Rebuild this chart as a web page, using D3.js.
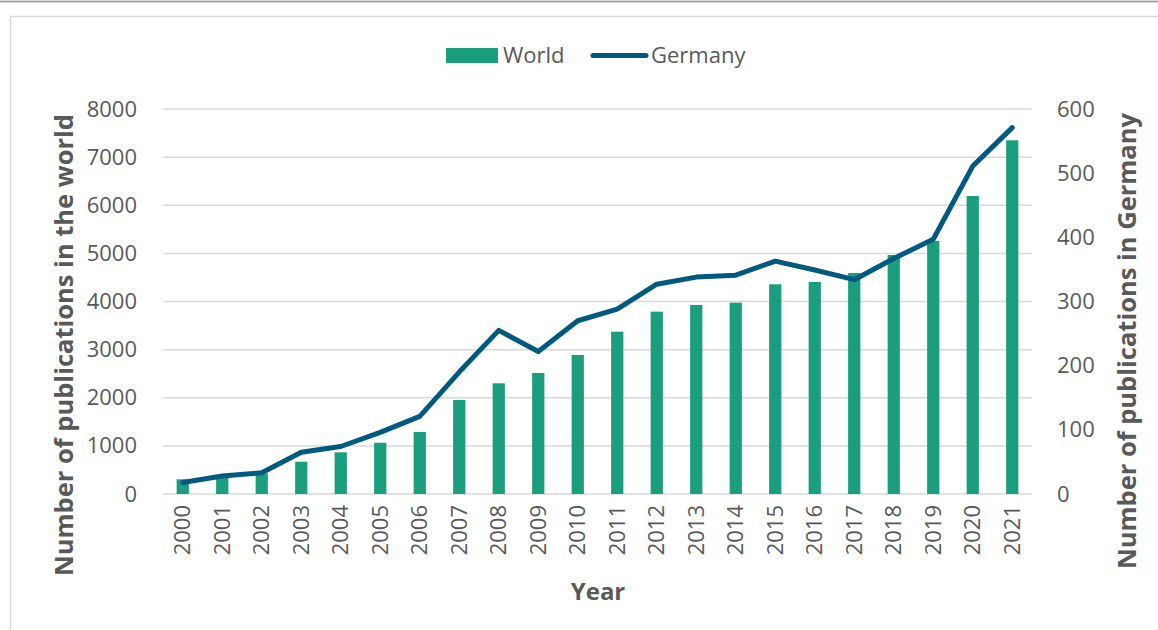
<!DOCTYPE html>
<html><head><meta charset="utf-8">
<script src="https://cdn.jsdelivr.net/npm/d3@7"></script>
<style>html,body{margin:0;padding:0;background:#fff;}svg{display:block;}</style>
</head><body>
<svg id="chart" width="1158" height="630"></svg>
<script>
const years = ["2000","2001","2002","2003","2004","2005","2006","2007","2008","2009","2010","2011","2012","2013","2014","2015","2016","2017","2018","2019","2020","2021"];
const world = [305,380,430,671,866,1066,1288,1953,2300,2514,2888,3373,3789,3927,3975,4357,4405,4592,4966,5257,6192,7350];
const germany = [18,28,33,65,74,96,121,190,255,222,270,288,327,338,341,363,349,334,367,397,511,571];
const leftTicks = [0,1000,2000,3000,4000,5000,6000,7000,8000];
const rightTicks = [0,100,200,300,400,500,600];

const svg = d3.select("#chart");
const font = "'Open Sans', 'Noto Sans', sans-serif";
const textCol = "#595959";
const barCol = "#1a9e7e";
const lineCol = "#005a80";

// frame
svg.append("line").attr("x1",0).attr("x2",1158).attr("y1",1.5).attr("y2",1.5).attr("stroke","#a6a6a6").attr("stroke-width",2);
svg.append("rect").attr("x",10.5).attr("y",16.5).attr("width",1160).attr("height",640).attr("fill","none").attr("stroke","#d9d9d9").attr("stroke-width",1.5);

const m = {left:163, right:1032, top:109, bottom:494};
const x = d3.scaleBand().domain(years).range([m.left,m.right]).paddingInner(0.69).paddingOuter(0.345);
const yL = d3.scaleLinear().domain([0,8000]).range([m.bottom,m.top]);
const yR = d3.scaleLinear().domain([0,600]).range([m.bottom,m.top]);

// grid
svg.append("g").selectAll("line").data(leftTicks).join("line")
  .attr("x1",m.left).attr("x2",m.right)
  .attr("y1",d=>yL(d)).attr("y2",d=>yL(d))
  .attr("stroke","#d9d9d9").attr("stroke-width",1.5);

// left axis
const gL = svg.append("g").attr("transform",`translate(${m.left},0)`)
  .call(d3.axisLeft(yL).tickValues(leftTicks).tickSize(0).tickPadding(26).tickFormat(d3.format("d")));
gL.select(".domain").remove();
gL.selectAll("text").attr("fill",textCol).style("font-family",font).style("font-size","22px");

// right axis
const gR = svg.append("g").attr("transform",`translate(${m.right},0)`)
  .call(d3.axisRight(yR).tickValues(rightTicks).tickSize(0).tickPadding(25).tickFormat(d3.format("d")));
gR.select(".domain").remove();
gR.selectAll("text").attr("fill",textCol).style("font-family",font).style("font-size","22px");

// bars
svg.append("g").selectAll("rect").data(years).join("rect")
  .attr("x",d=>x(d)).attr("width",x.bandwidth())
  .attr("y",(d,i)=>yL(world[i])).attr("height",(d,i)=>yL(0)-yL(world[i]))
  .attr("fill",barCol);

// bottom axis
const gB = svg.append("g").attr("transform",`translate(0,${m.bottom})`)
  .call(d3.axisBottom(x).tickSize(0).tickPadding(0));
gB.select(".domain").remove();
gB.selectAll("text").attr("fill",textCol).style("font-family",font).style("font-size","22px")
  .attr("transform","rotate(-90)").attr("text-anchor","end").attr("dy","0.35em").attr("x",-11).attr("y",0);

// line
const line = d3.line().x((d,i)=>x(years[i])+x.bandwidth()/2).y(d=>yR(d));
svg.append("path").datum(germany).attr("d",line).attr("fill","none")
  .attr("stroke",lineCol).attr("stroke-width",5).attr("stroke-linejoin","round").attr("stroke-linecap","round");

// axis titles
svg.append("text").attr("transform","translate(73,345) rotate(-90)").attr("text-anchor","middle")
  .attr("fill",textCol).style("font-family",font).style("font-size","25.5px").style("font-weight","bold")
  .text("Number of publications in the world");
svg.append("text").attr("transform","translate(1136,341) rotate(-90)").attr("text-anchor","middle")
  .attr("fill",textCol).style("font-family",font).style("font-size","25.5px").style("font-weight","bold")
  .text("Number of publications in Germany");
svg.append("text").attr("x",598).attr("y",600).attr("text-anchor","middle")
  .attr("fill",textCol).style("font-family",font).style("font-size","24px").style("font-weight","bold")
  .text("Year");

// legend
const lg = svg.append("g");
lg.append("rect").attr("x",446).attr("y",48).attr("width",52).attr("height",15).attr("fill",barCol);
lg.append("text").attr("x",503).attr("y",63).attr("fill",textCol).style("font-family",font).style("font-size","22px").text("World");
lg.append("line").attr("x1",593).attr("x2",646).attr("y1",55.5).attr("y2",55.5).attr("stroke",lineCol).attr("stroke-width",5).attr("stroke-linecap","round");
lg.append("text").attr("x",651).attr("y",63).attr("fill",textCol).style("font-family",font).style("font-size","22px").text("Germany");
</script>
</body></html>
